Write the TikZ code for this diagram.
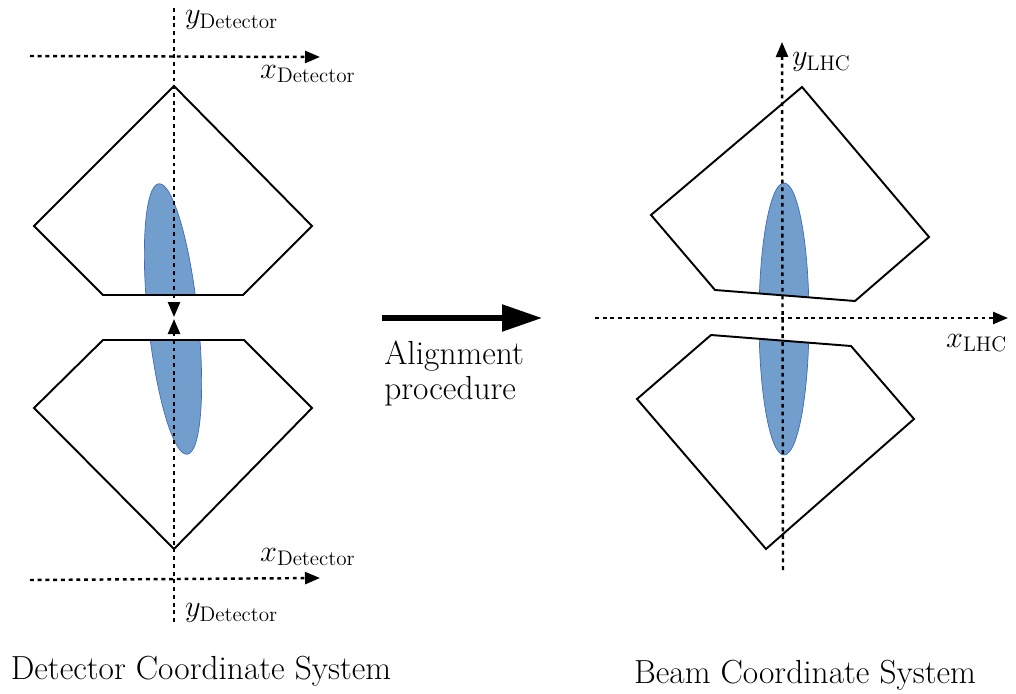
\documentclass[tikz,border=0pt]{standalone}
\usepackage{amsmath}
\usepackage{tikz}
\usetikzlibrary{arrows.meta,positioning}
\definecolor{beamblue}{RGB}{114,158,206}
\definecolor{beamedge}{RGB}{62,108,180}
\tikzset{
  axis/.style={
    line width=1.4pt,
    dash pattern=on 2.2pt off 2.2pt,
    -{Triangle[length=0.3cm,width=0.24cm]}
  },
  module/.style={
    line width=1.1pt,
    line join=miter,
    draw=black
  },
  beam/.style={
    fill=beamblue,
    draw=beamedge,
    line width=0.4pt
  },
  axislabel/.style={
    inner sep=1pt,
    anchor=west,
    font=\fontsize{18.5}{21}\selectfont
  },
  bigarrow/.style={
    line width=3pt,
    -{Triangle[length=0.8cm,width=0.52cm]}
  }
}

\begin{document}
\begin{tikzpicture}[x=0.02cm,y=-0.02cm,font=\fontsize{19}{21}\selectfont]
\useasboundingbox (0,0) rectangle (1016,693);

% detector halves, beam spot clipped to each half
\begin{scope}
  \clip (174,86) -- (312,226) -- (243,295) -- (103,295) -- (34,226) -- cycle;
  \path[beam] (173,319) ellipse [x radius=25,y radius=136,rotate=6];
\end{scope}
\begin{scope}
  \clip (103,340) -- (244,340) -- (312,408) -- (174,549) -- (34,408) -- cycle;
  \path[beam] (173,319) ellipse [x radius=25,y radius=136,rotate=6];
\end{scope}
\draw[module] (174,86) -- (312,226) -- (243,295) -- (103,295) -- (34,226) -- cycle;
\draw[module] (103,340) -- (244,340) -- (312,408) -- (174,549) -- (34,408) -- cycle;

% axes of the two detector halves
\coordinate (uyS) at (174,8);
\coordinate (uyE) at (174,317);
\coordinate (uxS) at (30,56);
\coordinate (uxE) at (320,57);
\coordinate (lyS) at (174,622);
\coordinate (lyE) at (174,319);
\coordinate (lxS) at (30,580);
\coordinate (lxE) at (320,578);
\draw[axis] (uyS) -- (uyE);
\draw[axis] (uxS) -- (uxE);
\draw[axis] (lyS) -- (lyE);
\draw[axis] (lxS) -- (lxE);
\node[axislabel] (uy) at (183,20) {$y_{\mathrm{Detector}}$};
\node[axislabel] (ux) at (258,74) {$x_{\mathrm{Detector}}$};
\node[axislabel] (lx) at (258,557) {$x_{\mathrm{Detector}}$};
\node[axislabel] (ly) at (183,613) {$y_{\mathrm{Detector}}$};

% alignment step
\coordinate (aS) at (382,318);
\coordinate (aE) at (542,318);
\draw[bigarrow] (aS) -- (aE);
\node[anchor=north west,align=left,inner sep=0pt,
  font=\fontsize{19}{19.5}\selectfont] (align) at (384,341) {Alignment\\procedure};

% aligned halves in the beam frame
\begin{scope}
  \clip (802,87) -- (929,237) -- (855,301) -- (715,290) -- (651,215) -- cycle;
  \path[beam] (784,319) ellipse [x radius=25,y radius=136];
\end{scope}
\begin{scope}
  \clip (711,335) -- (851,346) -- (914,419) -- (766,549) -- (637,399) -- cycle;
  \path[beam] (784,319) ellipse [x radius=25,y radius=136];
\end{scope}
\draw[module] (802,87) -- (929,237) -- (855,301) -- (715,290) -- (651,215) -- cycle;
\draw[module] (711,335) -- (851,346) -- (914,419) -- (766,549) -- (637,399) -- cycle;

\coordinate (byS) at (783,570);
\coordinate (byE) at (782,42);
\coordinate (bxS) at (595,318);
\coordinate (bxE) at (1008,318);
\draw[axis] (byS) -- (byE);
\draw[axis] (bxS) -- (bxE);
\node[axislabel] (by) at (790,62) {$y_{\mathrm{LHC}}$};
\node[axislabel] (bx) at (944,343) {$x_{\mathrm{LHC}}$};

% captions
\node (detcap) at (201,671) {Detector Coordinate System};
\node (beamcap) at (805,675) {Beam Coordinate System};
\end{tikzpicture}
\end{document}
